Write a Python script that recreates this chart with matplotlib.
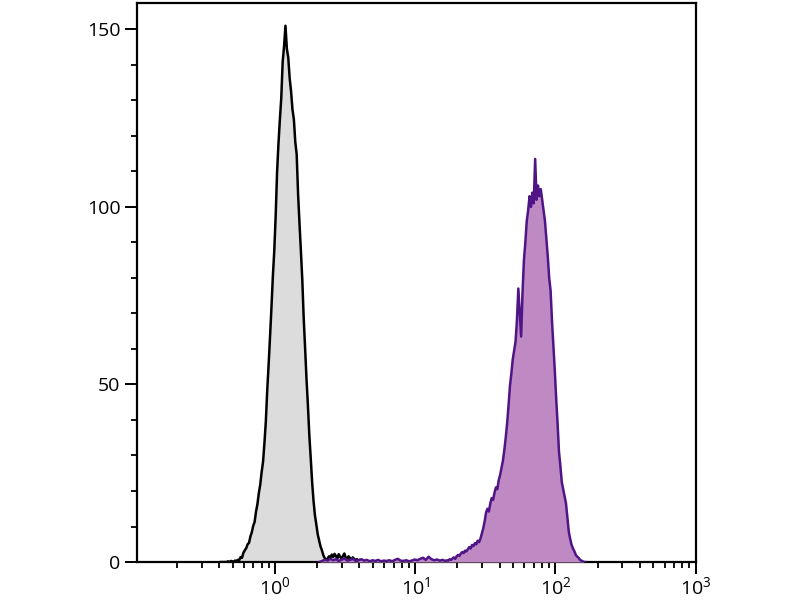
import numpy as np
import matplotlib
matplotlib.use("Agg")
import matplotlib.pyplot as plt
from matplotlib.ticker import LogLocator, MultipleLocator, FixedLocator

# ---------------- data ----------------
# isotype control histogram (log10 fluorescence bins, step 0.01 decade)
gray_log_start = -0.386
gray_step = 0.01
gray_counts = [
    0, 0, 0, 0, 0, 0.2, 0, 0.3, 0.2, 0.1,
    0.4, 0.3, 0.6, 0.5, 1.4, 1.2, 2.6, 3.3, 3.9, 5.0,
    5.4, 7.2, 8.4, 10.2, 11.3, 14.2, 16.3, 19.4, 21.8, 25.3,
    28.2, 33.5, 39.6, 48.4, 55.7, 63.5, 71.6, 80.4, 87.5, 97.3,
    109.6, 117.8, 124.5, 130.6, 140.8, 145.2, 151.0, 144.5, 142.0, 136.2,
    132.5, 127.4, 124.6, 118.3, 114.8, 103.6, 95.4, 87.6, 79.5, 68.7,
    60.3, 51.6, 44.2, 35.8, 29.4, 22.6, 17.3, 13.2, 10.6, 7.8,
    6.1, 4.4, 3.3, 1.9, 1.1, 0.6, 0.9, 1.6, 1.2, 2.1,
    1.4, 2.3, 1.7, 1.0, 2.2, 1.5, 0.9, 1.7, 2.4, 1.2,
    0.8, 1.6, 1.1, 0.7, 1.3, 0.9, 0.5, 0.8, 0.4, 0.6,
    0.3, 0.2, 0,
]

# stained sample histogram: low tail (step 0.02) + main peak (step 0.01)
purple_tail_start = 0.315
purple_tail_step = 0.02
purple_tail_counts = [
    0, 0.3, 0.6, 0.4, 0.9, 0.5, 0.8, 0.3, 0.7, 1.0,
    0.4, 0.6, 0.9, 0.3, 0.5, 0.8, 0.4, 0.6, 0.2, 0.5,
    0.3, 0.6, 0.2, 0.4, 0.3, 0.5, 0.2, 0.6, 0.9, 0.4,
    0.3, 0.5, 0.2, 0.4, 0.7, 0.5, 0.9, 1.2, 0.6, 1.5,
    0.8, 0.5, 0.7, 0.4, 0.6,
]
purple_main_start = 1.215
purple_main_step = 0.01
purple_main_counts = [
    0.3, 0.5, 0.4, 0.8, 0.6, 1.0, 1.3, 0.9, 1.6, 2.0,
    1.7, 2.4, 2.8, 2.5, 3.2, 3.0, 3.6, 4.2, 3.8, 4.8,
    4.5, 5.3, 5.0, 6.0, 5.6, 6.6, 8.0, 9.5, 11.5, 14.0,
    15.0, 14.2, 16.5, 18.0, 17.5, 19.5, 21.0, 20.5, 23.0, 24.5,
    26.5, 28.5, 31.5, 35.0, 39.0, 44.0, 49.5, 53.0, 57.0, 59.5,
    62.0, 68.0, 77.0, 70.0, 63.5, 76.0, 85.0, 90.0, 96.0, 99.0,
    103.0, 100.0, 104.0, 101.0, 113.5, 102.0, 106.0, 103.0, 105.0, 102.0,
    99.0, 96.0, 91.0, 86.0, 80.0, 76.5, 68.0, 61.0, 54.0, 46.0,
    39.0, 31.0, 27.0, 22.5, 20.5, 18.5, 16.5, 12.5, 8.5, 6.5,
    4.8, 3.8, 3.0, 2.0, 1.5, 1.2, 0.6, 0.4, 0.2, 0,
    0,
]

y_ticks = [0, 50, 100, 150]
x_ticks = [1e0, 1e1, 1e2, 1e3]

# ---------------- build x positions ----------------
gray_x = 10 ** (gray_log_start + gray_step * np.arange(len(gray_counts)))
p_tail_x = purple_tail_start + purple_tail_step * np.arange(len(purple_tail_counts))
p_main_x = purple_main_start + purple_main_step * np.arange(len(purple_main_counts))
purple_x = 10 ** np.concatenate([p_tail_x, p_main_x])
purple_counts = np.array(purple_tail_counts + purple_main_counts)
gray_counts = np.array(gray_counts)

# ---------------- style ----------------
plt.rcParams['font.family'] = ['Open Sans', 'DejaVu Sans']
plt.rcParams['mathtext.fontset'] = 'custom'
plt.rcParams['mathtext.rm'] = 'Open Sans'

fig = plt.figure(figsize=(8, 6), dpi=100)
ax = fig.add_axes([0.1716, 0.0633, 0.698, 0.9317])

ax.fill_between(gray_x, 0, gray_counts, color='#dcdcdc', linewidth=0, zorder=2)
ax.plot(gray_x, gray_counts, color='black', lw=1.8, zorder=3)
ax.fill_between(purple_x, 0, purple_counts, color='#bf8ac4', linewidth=0, zorder=4)
ax.plot(purple_x, purple_counts, color='#4f1486', lw=1.8, zorder=5)

ax.set_xscale('log')
ax.set_xlim(10 ** -0.983, 1000)
ax.set_ylim(0, 157.4)

ax.xaxis.set_major_locator(FixedLocator(x_ticks))
ax.xaxis.set_minor_locator(LogLocator(base=10, subs=np.arange(2, 10)))
ax.yaxis.set_major_locator(FixedLocator(y_ticks))
ax.yaxis.set_minor_locator(MultipleLocator(10))

for s in ax.spines.values():
    s.set_linewidth(1.6)
    s.set_color('black')

ax.tick_params(which='major', direction='out', length=8.5, width=1.4,
               labelsize=14, pad=2, top=False, right=False)
ax.tick_params(which='minor', direction='out', length=4, width=1.3,
               top=False, right=False)
ax.tick_params(axis='y', which='major', pad=3.5)

fig.savefig('out.png', dpi=100)
